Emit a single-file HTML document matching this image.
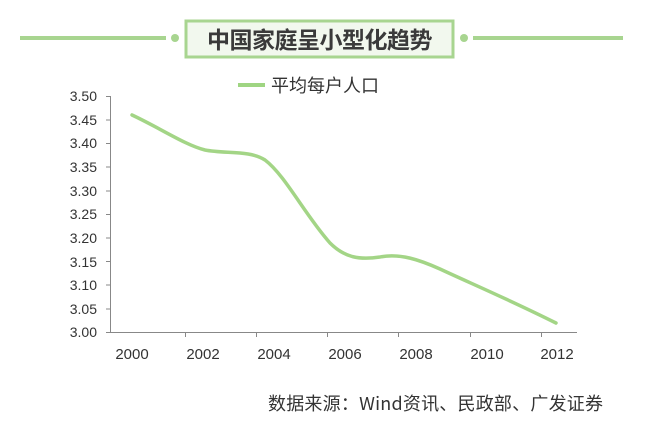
<!DOCTYPE html>
<html><head><meta charset="utf-8"><style>
body{margin:0;width:653px;height:420px;background:#fff;overflow:hidden;font-family:"Liberation Sans","Noto Sans CJK SC",sans-serif}
</style></head><body>
<svg width="653" height="420" xmlns="http://www.w3.org/2000/svg" font-family="Liberation Sans, Noto Sans CJK SC, sans-serif">
<line x1="20" y1="38" x2="166" y2="38" stroke="#a8d590" stroke-width="4"/>
<circle cx="175" cy="38" r="4" fill="#a8d590"/>
<circle cx="464" cy="38" r="4" fill="#a8d590"/>
<line x1="473" y1="38" x2="623" y2="38" stroke="#a8d590" stroke-width="4"/>
<rect x="186" y="21" width="267" height="36" fill="#f2f8ee" stroke="#a8d590" stroke-width="3"/>
<text x="319.5" y="48" text-anchor="middle" font-size="23" font-weight="bold" fill="#3a3a3a" font-family="Noto Sans CJK SC, sans-serif" letter-spacing="-0.5">中国家庭呈小型化趋势</text>
<line x1="238" y1="85" x2="265" y2="85" stroke="#9fd582" stroke-width="4"/>
<text x="271" y="92" font-size="18" fill="#333" font-family="Noto Sans CJK SC, sans-serif">平均每户人口</text>
<g font-size="14" fill="#333" text-anchor="end">
<text x="97" y="101">3.50</text><text x="97" y="125">3.45</text><text x="97" y="148">3.40</text><text x="97" y="172">3.35</text><text x="97" y="196">3.30</text><text x="97" y="219">3.25</text><text x="97" y="243">3.20</text><text x="97" y="267">3.15</text><text x="97" y="290">3.10</text><text x="97" y="314">3.05</text><text x="97" y="337">3.00</text>
</g>
<g stroke="#888" stroke-width="1" fill="none">
<path d="M110.5 96V332.5H577"/>
<path d="M106 96.5h5M106 120h5M106 143.5h5M106 167h5M106 191h5M106 214.5h5M106 238h5M106 261.5h5M106 285h5M106 309h5M106 332.5h5"/>
<path d="M185.5 332v5M256.5 332v5M327.5 332v5M398.5 332v5M470.5 332v5M541.5 332v5"/>
</g>
<g font-size="15" fill="#333" text-anchor="middle">
<text x="132" y="359">2000</text><text x="203" y="359">2002</text><text x="274" y="359">2004</text><text x="345" y="359">2006</text><text x="416" y="359">2008</text><text x="487" y="359">2010</text><text x="557" y="359">2012</text>
</g>
<path d="M132 115 C160 128,185 145,205 150 C225 154,250 150,265 160 C285 175,305 215,330 243 C345 258,360 260,380 257 C400 253,420 260,440 269 C470 283,510 300,556 323" stroke="#a3d586" stroke-width="3.5" fill="none" stroke-linecap="round"/>
<text x="603" y="410" text-anchor="end" font-size="18" fill="#333" font-family="Noto Sans CJK SC, sans-serif" textLength="335">数据来源：Wind资讯、民政部、广发证券</text>
</svg>
</body></html>
